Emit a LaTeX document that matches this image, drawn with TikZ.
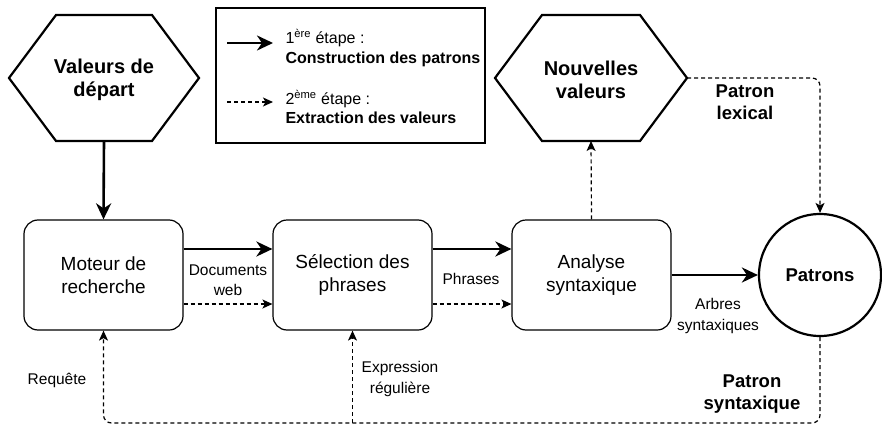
\documentclass[tikz,border=0pt]{standalone}
\usepackage{fontspec}
\setmainfont{Liberation Sans}
\usetikzlibrary{arrows.meta}
\begin{document}
\begin{tikzpicture}[x=1pt,y=-1pt,
  procbox/.style={draw,line width=1.2pt,rounded corners=14pt,minimum width=159pt,minimum height=110pt,align=center,font=\fontsize{19}{23}\selectfont},
  hexline/.style={line width=2.2pt,line join=miter},
  bigtext/.style={align=center,font=\fontsize{20}{23}\bfseries\selectfont},
  lbl/.style={align=center,font=\fontsize{15.5}{20.5}\selectfont},
  boldlbl/.style={align=center,font=\fontsize{18.5}{21.5}\bfseries\selectfont},
  legtext/.style={align=left,anchor=west,font=\fontsize{16}{19.5}\selectfont},
  solidarrow/.style={line width=2.6pt,-{Stealth[length=16pt,width=15pt,inset=5pt]}},
  dasharrow/.style={line width=1.2pt,dash pattern=on 4pt off 3pt,-{Stealth[length=10pt,width=9pt,inset=2.5pt]}}
]
\useasboundingbox (0,0) rectangle (882,425);
%Hexagon: Valeurs de depart
\draw[hexline] (9,78) -- (56,15) -- (152,15) -- (199,78) -- (152,141) -- (56,141) -- cycle;
\node[bigtext] (valeurs) at (104,80) {Valeurs de\\départ};
\coordinate (valeurs-bot) at (104,141);
%Hexagon: Nouvelles valeurs
\draw[hexline] (495,78) -- (542,15) -- (640,15) -- (687,78) -- (640,141) -- (542,141) -- cycle;
\node[bigtext] (nouvelles) at (591,80) {Nouvelles\\valeurs};
\coordinate (nouvelles-bot) at (591,141);
\coordinate (nouvelles-right) at (687,78);
%Legend
\draw[line width=1.3pt] (216,8) rectangle (485,143);
\coordinate (leg1-a) at (227,43);
\coordinate (leg1-b) at (273,43);
\coordinate (leg2-a) at (227,102);
\coordinate (leg2-b) at (273,102);
\draw[solidarrow] (leg1-a) -- (leg1-b);
\draw[dasharrow] (leg2-a) -- (leg2-b);
\node[legtext] (leg1) at (282,48) {1\textsuperscript{ère} étape :\\\textbf{Construction des patrons}};
\node[legtext] (leg2) at (282,107) {2\textsuperscript{ème} étape :\\\textbf{Extraction des valeurs}};
%Process boxes
\node[procbox] (moteur) at (103.5,275) {Moteur de\\recherche};
\node[procbox] (selection) at (352.5,275) {Sélection des\\phrases};
\node[procbox] (analyse) at (591.5,275) {Analyse\\syntaxique};
\node[draw,circle,line width=2.2pt,minimum size=122pt,font=\fontsize{18.5}{22}\bfseries\selectfont] (patrons) at (820,275) {Patrons};
%Solid arrows
\draw[solidarrow] (valeurs-bot) -- (moteur.north);
\draw[solidarrow] ([yshift=26pt]moteur.east) -- ([yshift=26pt]selection.west);
\draw[solidarrow] ([yshift=26pt]selection.east) -- ([yshift=26pt]analyse.west);
\draw[solidarrow] (analyse.east) -- (patrons.west);
%Dashed arrows
\draw[dasharrow] ([yshift=-29pt]moteur.east) -- ([yshift=-29pt]selection.west);
\draw[dasharrow] ([yshift=-29pt]selection.east) -- ([yshift=-29pt]analyse.west);
\draw[dasharrow] (analyse.north) -- (nouvelles-bot);
\draw[dasharrow,rounded corners=8pt] (nouvelles-right) -| (patrons.north);
\draw[dasharrow,rounded corners=8pt] (patrons.south) |- (moteur.south |- 0,423) -- (moteur.south);
\draw[dasharrow] (selection.south |- 0,423) -- (selection.south);
%Labels
\node[lbl] (docs) at (228,280) {Documents\\web};
\node[lbl] (phrases) at (471,279) {Phrases};
\node[lbl] (arbres) at (718,316) {Arbres\\syntaxiques};
\node[lbl] (requete) at (57,380) {Requête};
\node[lbl] (expr) at (400,379) {Expression\\régulière};
\node[boldlbl] (lexical) at (745,102) {Patron\\lexical};
\node[boldlbl] (syntaxique) at (752,394) {Patron\\syntaxique};
\end{tikzpicture}
\end{document}
